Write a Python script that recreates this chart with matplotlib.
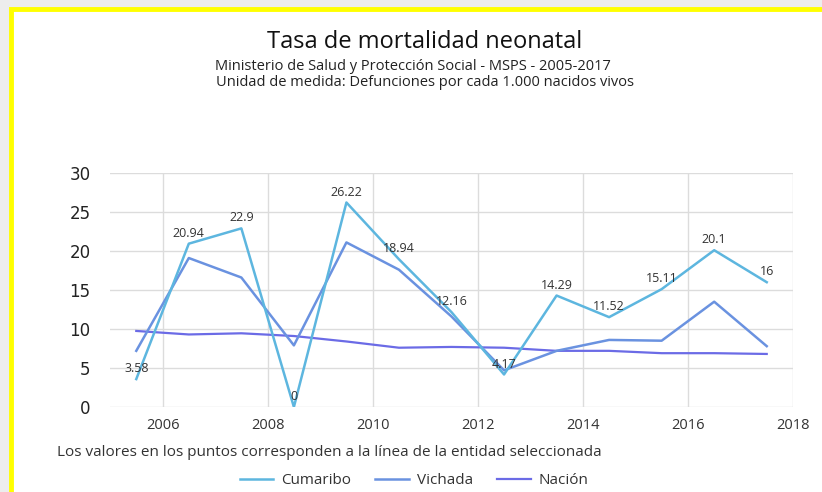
import matplotlib
matplotlib.use("Agg")
import matplotlib.pyplot as plt
from matplotlib.patches import Rectangle

plt.rcParams['font.family'] = ['Open Sans', 'DejaVu Sans']

# datos (años a mitad de periodo)
anios = [2005, 2006, 2007, 2008, 2009, 2010, 2011, 2012, 2013, 2014, 2015, 2016, 2017]
cumaribo = [3.58, 20.94, 22.9, 0, 26.22, 18.94, 12.16, 4.17, 14.29, 11.52, 15.11, 20.1, 16]
vichada = [7.2, 19.1, 16.6, 7.9, 21.1, 17.6, 11.6, 4.7, 7.2, 8.6, 8.5, 13.5, 7.8]
nacion = [9.75, 9.3, 9.45, 9.1, 8.4, 7.6, 7.7, 7.6, 7.2, 7.2, 6.9, 6.9, 6.8]
etiquetas_x = [2006, 2008, 2010, 2012, 2014, 2016, 2018]

col_cum = '#5DB6DF'
col_vic = '#6A92E0'
col_nac = '#6B6BE6'

fig = plt.figure(figsize=(8.22, 4.92), dpi=100)
fig.patch.set_facecolor('#ededed')

# fondo blanco y borde amarillo
fig.add_artist(Rectangle((11 / 822, -0.1), 1.2, 1 - 9 / 492 + 0.1,
                         transform=fig.transFigure, facecolor='white',
                         edgecolor='#ffff00', linewidth=3.5, zorder=0))

ax = fig.add_axes([110 / 822, 1 - 407 / 492, 683 / 822, 234 / 492])
ax.set_facecolor('white')

x = [a + 0.5 for a in anios]
ax.plot(x, nacion, color=col_nac, lw=1.6, label='Nación', zorder=3)
ax.plot(x, vichada, color=col_vic, lw=1.8, label='Vichada', zorder=4)
ax.plot(x, cumaribo, color=col_cum, lw=1.8, label='Cumaribo', zorder=5)

for xi, v in zip(x, cumaribo):
    ax.annotate(f'{v:g}', (xi, v), xytext=(0, 7.5), textcoords='offset points',
                ha='center', va='center', fontsize=9, color='#333333', zorder=6)

ax.set_xlim(2005, 2018)
ax.set_ylim(0, 30)
ax.set_xticks(etiquetas_x)
ax.set_yticks(range(0, 31, 5))
ax.grid(True, color='#dcdcdc', lw=1)
for s in ax.spines.values():
    s.set_visible(False)
ax.tick_params(length=0)
ax.tick_params(axis='y', labelsize=12, pad=14, labelcolor='#222222')
ax.tick_params(axis='x', labelsize=10.5, pad=8, labelcolor='#333333')
for lab in ax.get_yticklabels():
    lab.set_family(['DejaVu Sans'])

fig.text(425 / 822, 1 - 42 / 492, 'Tasa de mortalidad neonatal', ha='center', va='center',
         fontsize=17, color='#111111')
fig.text(413 / 822, 1 - 66 / 492, 'Ministerio de Salud y Protección Social - MSPS - 2005-2017',
         ha='center', va='center', fontsize=10.5, color='#222222')
fig.text(425 / 822, 1 - 82 / 492, 'Unidad de medida: Defunciones por cada 1.000 nacidos vivos',
         ha='center', va='center', fontsize=10.5, color='#222222')
fig.text(57 / 822, 1 - 452 / 492,
         'Los valores en los puntos corresponden a la línea de la entidad seleccionada',
         ha='left', va='center', fontsize=11, color='#333333')

h, l = ax.get_legend_handles_labels()
fig.legend(h[::-1], l[::-1], loc='center', bbox_to_anchor=(414 / 822, 1 - 481 / 492),
           ncol=3, frameon=False, fontsize=11, handlelength=2.2, columnspacing=1.6,
           handletextpad=0.5, labelcolor='#333333')

fig.savefig('out.png', dpi=100, facecolor=fig.get_facecolor())
